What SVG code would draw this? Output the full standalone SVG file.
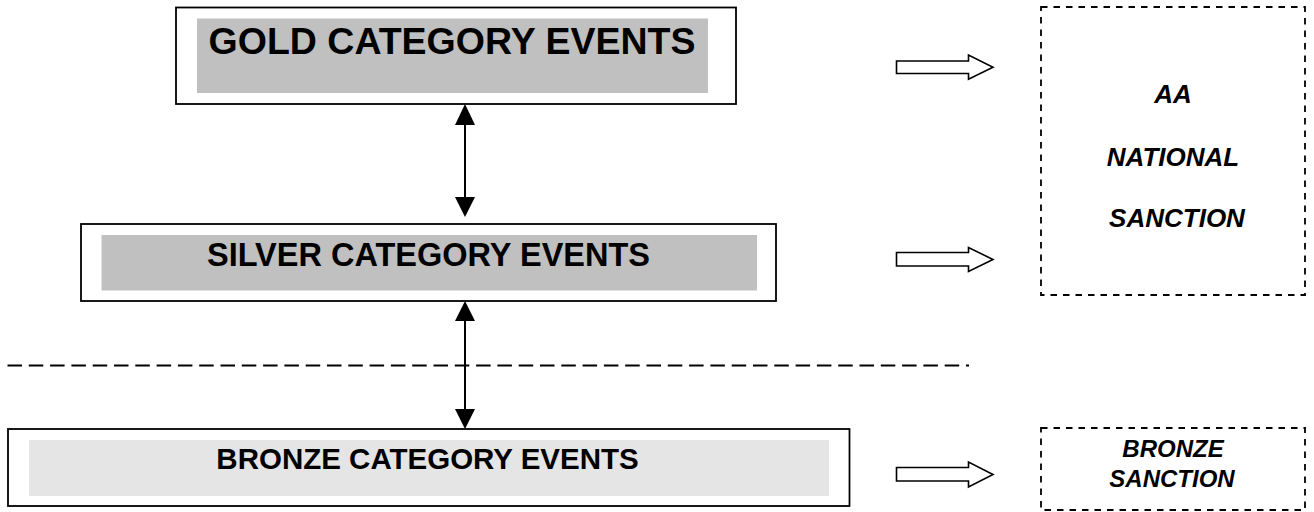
<svg xmlns="http://www.w3.org/2000/svg" width="1314" height="512" viewBox="0 0 1314 512">
<style>
.outer{fill:#fff;stroke:#000;stroke-width:1.8}
.inner{stroke:none}
.t{font-family:"Liberation Sans",Arial,sans-serif;font-weight:bold;fill:#000;text-anchor:middle}
.ti{font-family:"Liberation Sans",Arial,sans-serif;font-weight:bold;font-style:italic;fill:#000;text-anchor:middle}
.dbox{fill:none;stroke:#000;stroke-width:1.8;stroke-dasharray:6.5 6}
.hollow{fill:#fff;stroke:#000;stroke-width:1.6;stroke-linejoin:miter}
.conn{stroke:#000;stroke-width:2;fill:none}
.head{fill:#000;stroke:none}
</style>
<rect width="1314" height="512" fill="#fff"/>
<g id="gold">
<rect class="outer" x="176" y="7.5" width="560" height="96.5"/>
<rect class="inner" x="197" y="18.5" width="511" height="74.5" fill="#C0C0C0"/>
<text class="t" x="452" y="54" font-size="37.5">GOLD CATEGORY EVENTS</text>
</g>
<g id="silver">
<rect class="outer" x="81" y="224" width="695" height="77"/>
<rect class="inner" x="101.5" y="235" width="655.5" height="55.5" fill="#C0C0C0"/>
<text class="t" x="428.5" y="266" font-size="32.5">SILVER CATEGORY EVENTS</text>
</g>
<g id="bronze">
<rect class="outer" x="8" y="429" width="841.5" height="77"/>
<rect class="inner" x="29" y="440" width="800" height="56" fill="#E5E5E5"/>
<text class="t" x="427.5" y="469" font-size="29.5">BRONZE CATEGORY EVENTS</text>
</g>
<g id="aa-national">
<rect class="dbox" x="1041" y="7" width="264" height="288"/>
<text class="ti" x="1173" y="103" font-size="26">AA</text>
<text class="ti" x="1173" y="165.5" font-size="26">NATIONAL</text>
<text class="ti" x="1177" y="226.5" font-size="26">SANCTION</text>
</g>
<g id="bronze-sanction">
<rect class="dbox" x="1041" y="428" width="264" height="82"/>
<text class="ti" x="1173" y="456.5" font-size="24">BRONZE</text>
<text class="ti" x="1172" y="486.5" font-size="24">SANCTION</text>
</g>
<g id="connectors">
<line x1="7.5" y1="365.5" x2="969" y2="365.5" stroke="#000" stroke-width="2" stroke-dasharray="14.5 6.8"/>
<line class="conn" x1="465" y1="120" x2="465" y2="202"/>
<polygon class="head" points="465,104 455,125 475,125"/>
<polygon class="head" points="465,217 455,197 475,197"/>
<line class="conn" x1="465" y1="318" x2="465" y2="412"/>
<polygon class="head" points="465,301 455,321 475,321"/>
<polygon class="head" points="465,429 455,409 475,409"/>
<polygon class="hollow" points="896.5,61 968.5,61 968.5,55 993,67.2 968.5,79.3 968.5,73.5 896.5,73.5"/>
<polygon class="hollow" points="896.5,252.5 968.5,252.5 968.5,247.5 993,259.5 968.5,271.5 968.5,266 896.5,266"/>
<polygon class="hollow" points="896.5,467.5 968.5,467.5 968.5,462 993,474.5 968.5,487 968.5,481 896.5,481"/>
</g>
</svg>
